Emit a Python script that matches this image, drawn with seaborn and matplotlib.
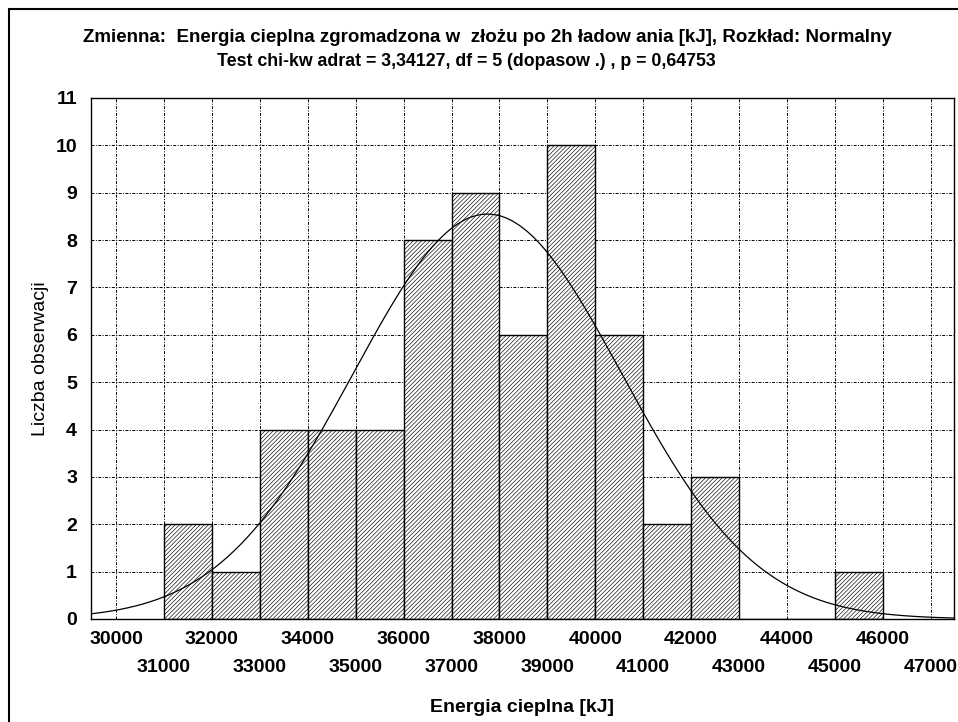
"""
Histogram with fitted normal curve - energia cieplna (STATISTICA style)
"""

import matplotlib.pyplot as plt
import numpy as np
import seaborn as sns
from matplotlib.lines import Line2D

# Bin starts (bin width 1000 kJ) and observed counts
bin_start = [31000, 32000, 33000, 34000, 35000, 36000, 37000, 38000,
             39000, 40000, 41000, 42000, 43000, 44000, 45000]
counts = [2, 1, 4, 4, 4, 8, 9, 6, 10, 6, 2, 3, 0, 0, 1]
bin_width = 1000

# Parameters of the fitted normal curve
fit_mean = 37750
fit_sd = 2800

x_ticks_even = [30000, 32000, 34000, 36000, 38000, 40000, 42000, 44000, 46000]
x_ticks_odd = [31000, 33000, 35000, 37000, 39000, 41000, 43000, 45000, 47000]
y_ticks = [0, 1, 2, 3, 4, 5, 6, 7, 8, 9, 10, 11]

title_1 = ('Zmienna:  Energia cieplna zgromadzona w  złożu po 2h ładow ania '
           '[kJ], Rozkład: Normalny')
title_2 = 'Test chi-kw adrat = 3,34127, df = 5 (dopasow .) , p = 0,64753'

sns.set_style('white')
plt.rcParams['font.family'] = ['Liberation Sans', 'DejaVu Sans']
plt.rcParams['text.color'] = 'black'
plt.rcParams['axes.labelcolor'] = 'black'
plt.rcParams['xtick.color'] = 'black'
plt.rcParams['ytick.color'] = 'black'
plt.rcParams['hatch.color'] = 'black'
plt.rcParams['hatch.linewidth'] = 0.45

fig = plt.figure(figsize=(9.58, 7.22), dpi=100)
ax = fig.add_axes([0.0950, 0.1427, 0.9008, 0.7216])

# Histogram from the bin counts
edges = bin_start + [bin_start[-1] + bin_width]
centers = [b + bin_width / 2 for b in bin_start]
sns.histplot(x=centers, weights=counts, bins=edges, stat='count',
             color='white', edgecolor='black', linewidth=1.0, alpha=1,
             hatch='////////', ax=ax, zorder=2)

# Fitted normal curve scaled to counts
x_min, x_max = 29478, 47484
curve_x = np.linspace(x_min, x_max, 400)
n_obs = sum(counts)
curve_y = (n_obs * bin_width / (fit_sd * np.sqrt(2 * np.pi))
           * np.exp(-0.5 * ((curve_x - fit_mean) / fit_sd) ** 2))
sns.lineplot(x=curve_x, y=curve_y, color='black', linewidth=0.9, ax=ax,
             zorder=3)

ax.set_xlim(x_min, x_max)
ax.set_ylim(0, 11)

# Staggered x labels: even thousands on first row, odd on second
ax.set_xticks(x_ticks_even)
ax.set_xticklabels([str(v) for v in x_ticks_even])
ax.set_xticks(x_ticks_odd, minor=True)
ax.set_xticklabels([str(v) for v in x_ticks_odd], minor=True)
ax.set_yticks(y_ticks)
ax.set_yticklabels([str(v) for v in y_ticks])

ax.tick_params(axis='x', which='major', length=0, pad=9, labelsize=14)
ax.tick_params(axis='x', which='minor', length=0, pad=29, labelsize=14)
ax.tick_params(axis='y', length=0, pad=10, labelsize=14)
for lab in ax.get_xticklabels() + ax.get_xticklabels(minor=True) + \
        ax.get_yticklabels():
    lab.set_fontweight('bold')

ax.set_axisbelow(True)
ax.grid(True, which='both', color='black', linewidth=0.7,
        linestyle=(0, (3, 1.5, 1, 1.5)))

for side in ['left', 'right', 'top', 'bottom']:
    ax.spines[side].set_visible(True)
    ax.spines[side].set_color('black')
    ax.spines[side].set_linewidth(1.0)

ax.set_xlabel('Energia cieplna [kJ]', fontsize=14, fontweight='bold')
ax.xaxis.set_label_coords(0.5, -0.169)
ax.xaxis.label.set_va('center')
ax.set_ylabel('Liczba obserwacji', fontsize=14)
ax.yaxis.set_label_coords(-0.058, 0.5)
ax.yaxis.label.set_va('center')

fig.text(0.509, 0.948, title_1, ha='center', va='center', fontsize=13.5,
         fontweight='bold')
fig.text(0.487, 0.915, title_2, ha='center', va='center', fontsize=12.8,
         fontweight='bold')

# Outer frame (left and top edges visible)
fig.add_artist(Line2D([9 / 958, 9 / 958], [0, 1 - 9 / 722],
                      transform=fig.transFigure, color='black', lw=1.5))
fig.add_artist(Line2D([9 / 958, 1], [1 - 9 / 722, 1 - 9 / 722],
                      transform=fig.transFigure, color='black', lw=1.5))

fig.savefig('out.png', dpi=100)
